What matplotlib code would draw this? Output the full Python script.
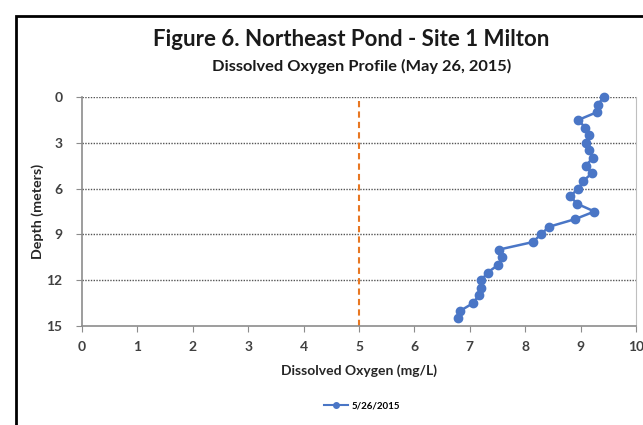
import matplotlib.pyplot as plt
from matplotlib.patches import Rectangle
from matplotlib.lines import Line2D

plt.rcParams["font.family"] = ["Lato", "DejaVu Sans"]

# data
depth_m = [0.0, 0.5, 1.0, 1.5, 2.0, 2.5, 3.0, 3.5, 4.0, 4.5,
           5.0, 5.5, 6.0, 6.5, 7.0, 7.5, 8.0, 8.5, 9.0, 9.5,
           10.0, 10.5, 11.0, 11.5, 12.0, 12.5, 13.0, 13.5, 14.0, 14.5]
do_mgl = [9.42, 9.31, 9.29, 8.96, 9.08, 9.16, 9.10, 9.16, 9.22, 9.09,
          9.20, 9.05, 8.96, 8.81, 8.94, 9.25, 8.90, 8.43, 8.28, 8.14,
          7.52, 7.59, 7.51, 7.32, 7.21, 7.21, 7.16, 7.06, 6.83, 6.79]
series_label = "5/26/2015"
threshold = 5
x_ticks = [0, 1, 2, 3, 4, 5, 6, 7, 8, 9, 10]
y_ticks = [0, 3, 6, 9, 12, 15]

BLUE = "#4A76C6"
ORANGE = "#E87722"
TICK_COLOR = "#404040"

fig = plt.figure(figsize=(6.43, 4.25), dpi=100)
ax = fig.add_axes([82 / 643, 1 - 326 / 425, (636 - 82) / 643, (326 - 97) / 425])

# outer frame of the original chart (only left and top edges visible)
fig.patches.append(Rectangle((16 / 643, -0.2), 1.2, 1 - 16 / 425 + 0.2,
                             transform=fig.transFigure, fill=False,
                             edgecolor="black", linewidth=2.0, zorder=10))

ax.set_xlim(0, 10)
ax.set_ylim(15, 0)
ax.set_xticks(x_ticks)
ax.set_yticks(y_ticks)

for y in y_ticks[:-1]:
    ax.axhline(y, color="#555555", linestyle=(0, (1, 1)), linewidth=1.0, zorder=1)

ax.axvline(threshold, color=ORANGE, linestyle=(0, (3, 2)), linewidth=1.5, zorder=2)

ax.plot(do_mgl, depth_m, color=BLUE, linewidth=1.8, marker="o",
        markersize=6, markeredgecolor=BLUE, zorder=3, clip_on=False)

for side in ["left", "bottom"]:
    ax.spines[side].set_color("#8C8C8C")
    ax.spines[side].set_linewidth(1.2)
ax.spines["right"].set_color("#BFBFBF")
ax.spines["top"].set_visible(False)

ax.tick_params(axis="both", direction="out", length=4, color="#8C8C8C",
               labelsize=10, labelcolor=TICK_COLOR)
ax.tick_params(axis="x", pad=7)
ax.tick_params(axis="y", pad=10)
for lbl in ax.get_xticklabels() + ax.get_yticklabels():
    lbl.set_fontweight("bold")

ax.set_xlabel("Dissolved Oxygen (mg/L)", fontsize=10, fontweight="bold",
              color="#262626", labelpad=8)
ax.set_ylabel("Depth (meters)", fontsize=10.3, fontweight="bold",
              color="#262626", va="center")
ax.yaxis.set_label_coords((38 - 82) / 554, 0.5)

fig.text(351 / 643, 1 - 40 / 425, "Figure 6. Northeast Pond - Site 1 Milton",
         ha="center", va="center", fontsize=16, fontweight="bold", color="#1a1a1a")
fig.text(362 / 643, 1 - 66 / 425, "Dissolved Oxygen Profile (May 26, 2015)",
         ha="center", va="center", fontsize=11.8, fontweight="bold", color="#1a1a1a")

handle = Line2D([0], [0], color=BLUE, linewidth=1.5, marker="o", markersize=4)
fig.legend(handles=[handle], labels=[series_label], loc="center",
           bbox_to_anchor=(362 / 643, 1 - 406 / 425), frameon=False,
           handlelength=2.5, handletextpad=0.3,
           prop={"weight": "bold", "size": 7})

fig.savefig("out.png", dpi=100)
